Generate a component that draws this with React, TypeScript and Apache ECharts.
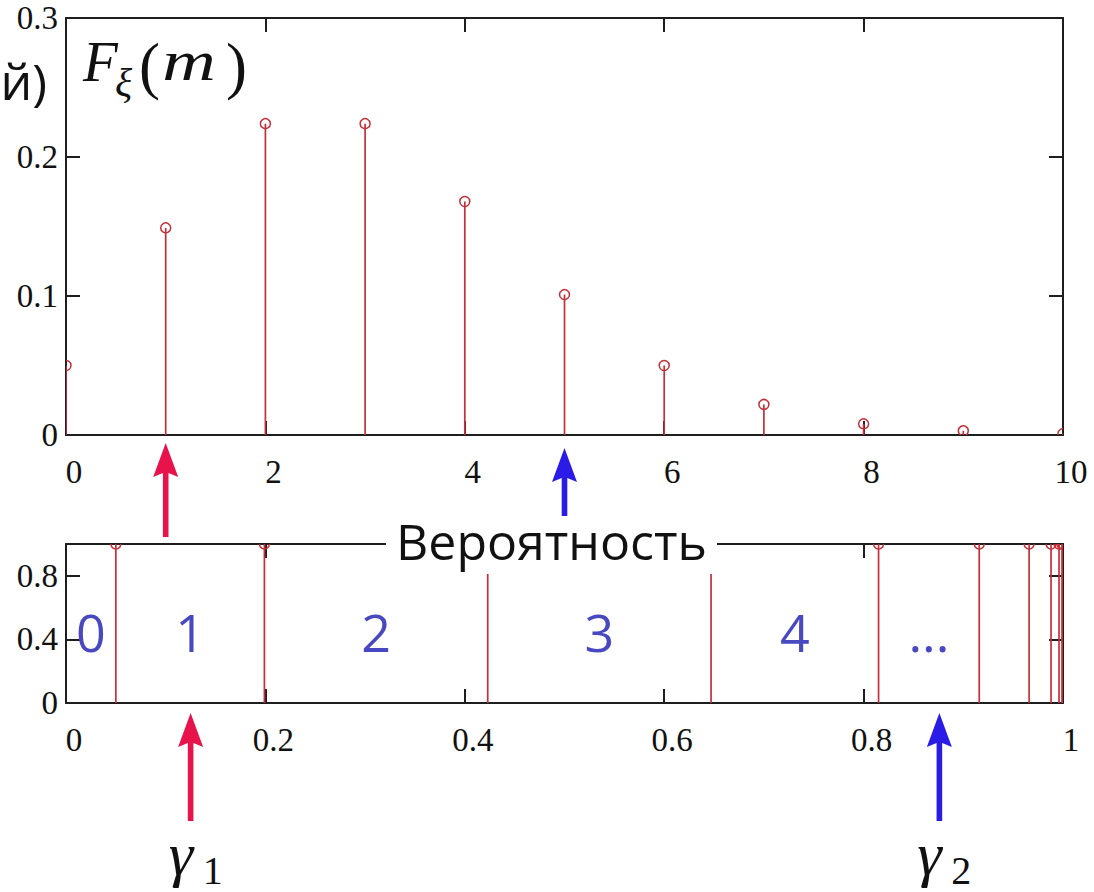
import React, { useEffect, useRef } from 'react';
import * as echarts from 'echarts';

// ---- data ----
const mValues = [0, 1, 2, 3, 4, 5, 6, 7, 8, 9, 10];
const pmfValues = [0.05, 0.149, 0.224, 0.224, 0.168, 0.101, 0.05, 0.022, 0.008, 0.003, 0.001];
const cdfValues = [0.05, 0.199, 0.423, 0.647, 0.815, 0.916, 0.966, 0.988, 0.996, 0.999, 1.0];
const intervalLabels = ['0', '1', '2', '3', '4', '...'];
const intervalLabelLevel = 0.45;
const topX = { min: 0, max: 10, interval: 2 };
const topY = { min: 0, max: 0.3, interval: 0.1 };
const botX = { min: 0, max: 1, interval: 0.2 };
const botY = { min: 0, max: 1, interval: 0.4 };
const topArrowTargets = [1, 5]; // m values pointed at
const gammaValues = [0.125, 0.876]; // random numbers γ1, γ2
const gammaNames = ['1', '2'];
const axisTitle = 'Вероятность';

const RED = '#c4303a';
const AXIS = '#1e1e1e';
const BLUE_TXT = '#4848c0';
const ARROW_RED = '#e8134b';
const ARROW_BLUE = '#2a1be6';
const SERIF = '"Liberation Serif", "Times New Roman", serif';
const SANS = '"Open Sans", "Noto Sans", sans-serif';

function axisCommon(extra: any) {
  return {
    type: 'value',
    axisLine: { show: true, onZero: false, lineStyle: { color: AXIS, width: 2 } },
    axisTick: { show: true, inside: true, length: 14, lineStyle: { color: AXIS, width: 2 } },
    splitLine: { show: false },
    ...extra,
  };
}

const xLabel = { fontFamily: SERIF, fontSize: 33, color: '#111', margin: 20, padding: [0, 0, 0, 16] };
const yLabel = { fontFamily: SERIF, fontSize: 33, color: '#111', margin: 8, padding: [6, 0, 0, 0] };

function stemRenderer(withCircle: boolean) {
  return (params: any, api: any) => {
    const x = api.value(0);
    const y = api.value(1);
    const p0 = api.coord([x, 0]);
    const p1 = api.coord([x, y]);
    const children: any[] = [
      { type: 'line', shape: { x1: p0[0], y1: p0[1], x2: p1[0], y2: p1[1] }, style: { stroke: RED, lineWidth: 1.7 } },
    ];
    if (withCircle) {
      children.push({ type: 'circle', shape: { cx: p1[0], cy: p1[1], r: 5 }, style: { stroke: RED, fill: 'none', lineWidth: 1.5 } });
    }
    return { type: 'group', children };
  };
}

function arrow(x: number, tip: number, bottom: number, color: string) {
  const hw = 12.5;
  const hl = 34;
  const sw = 2.8;
  return {
    type: 'polygon',
    z: 60,
    shape: {
      points: [
        [x, tip],
        [x + hw, tip + hl],
        [x + sw, tip + hl - 4],
        [x + sw, bottom],
        [x - sw, bottom],
        [x - sw, tip + hl - 4],
        [x - hw, tip + hl],
      ],
    },
    style: { fill: color },
  };
}

export default function App() {
  const ref = useRef<HTMLDivElement>(null);
  useEffect(() => {
    const chart = echarts.init(ref.current!, null, { renderer: 'svg' });

    const labelData = intervalLabels.map((t, i) => {
      const lo = i === 0 ? 0 : cdfValues[i - 1];
      const hi = cdfValues[i];
      return [(lo + hi) / 2, intervalLabelLevel, t];
    });

    const option: any = {
      animation: false,
      backgroundColor: '#fff',
      textStyle: { fontFamily: SERIF },
      grid: [
        { left: 66, top: 18, width: 997, height: 417 },
        { left: 66, top: 544, width: 997, height: 159 },
      ],
      xAxis: [
        axisCommon({ gridIndex: 0, position: 'bottom', ...topX, axisLabel: xLabel }),
        axisCommon({ gridIndex: 0, position: 'top', ...topX, axisLabel: { show: false } }),
        axisCommon({ gridIndex: 1, position: 'bottom', ...botX, axisLabel: xLabel }),
        axisCommon({ gridIndex: 1, position: 'top', ...botX, axisLabel: { show: false } }),
      ],
      yAxis: [
        axisCommon({ gridIndex: 0, position: 'left', ...topY, axisLabel: yLabel }),
        axisCommon({ gridIndex: 0, position: 'right', ...topY, axisLabel: { show: false } }),
        axisCommon({
          gridIndex: 1,
          position: 'left',
          ...botY,
          axisLabel: { ...yLabel, formatter: (v: number) => (v > 0.9 ? '' : String(Math.round(v * 10) / 10)) },
        }),
        axisCommon({ gridIndex: 1, position: 'right', ...botY, axisLabel: { show: false } }),
      ],
      series: [
        {
          type: 'custom',
          xAxisIndex: 0,
          yAxisIndex: 0,
          clip: true,
          z: 3,
          renderItem: stemRenderer(true),
          encode: { x: 0, y: 1 },
          data: mValues.map((m, i) => [m, pmfValues[i]]),
        },
        {
          type: 'custom',
          xAxisIndex: 2,
          yAxisIndex: 2,
          clip: true,
          z: 3,
          renderItem: stemRenderer(true),
          encode: { x: 0, y: 1 },
          data: cdfValues.map((c) => [c, 1]),
        },
        {
          type: 'custom',
          xAxisIndex: 2,
          yAxisIndex: 2,
          z: 4,
          renderItem: (params: any, api: any) => {
            const p = api.coord([api.value(0), api.value(1)]);
            return {
              type: 'text',
              x: p[0],
              y: p[1],
              style: {
                text: labelData[params.dataIndex][2],
                fill: BLUE_TXT,
                fontFamily: SANS,
                fontSize: 52,
                align: 'center',
                verticalAlign: 'middle',
              },
            };
          },
          encode: { x: 0, y: 1 },
          data: labelData,
        },
      ],
    };
    chart.setOption(option);

    const pxTop = (v: number) => chart.convertToPixel({ xAxisIndex: 0 }, v) as number;
    const pxBot = (v: number) => chart.convertToPixel({ xAxisIndex: 2 }, v) as number;

    const graphics: any[] = [
      // cut-off left caption
      { type: 'text', z: 60, x: 47, y: 81, style: { text: 'й)', fill: '#111', fontFamily: SANS, fontSize: 50, align: 'right', verticalAlign: 'middle' } },
      // F_ξ(m)
      { type: 'text', z: 60, x: 83, y: 61, style: { text: 'F', fill: '#111', fontFamily: SERIF, fontStyle: 'italic', fontSize: 57, align: 'left', verticalAlign: 'middle' } },
      { type: 'text', z: 60, x: 115, y: 82, style: { text: 'ξ', fill: '#111', fontFamily: SERIF, fontStyle: 'italic', fontSize: 40, align: 'left', verticalAlign: 'middle' } },
      { type: 'text', z: 60, x: 139, y: 66, style: { text: '(', fill: '#111', fontFamily: SERIF, fontSize: 63, align: 'left', verticalAlign: 'middle' } },
      { type: 'text', z: 60, x: 189, y: 61, scaleX: 1.3, style: { text: 'm', fill: '#111', fontFamily: SERIF, fontStyle: 'italic', fontSize: 57, align: 'center', verticalAlign: 'middle' } },
      { type: 'text', z: 60, x: 226, y: 66, style: { text: ')', fill: '#111', fontFamily: SERIF, fontSize: 63, align: 'left', verticalAlign: 'middle' } },
      // axis title with white box
      { type: 'rect', z: 55, shape: { x: 386, y: 514, width: 331, height: 60 }, style: { fill: '#fff' } },
      { type: 'text', z: 60, x: 396, y: 541, style: { text: axisTitle, fill: '#111', fontFamily: SANS, fontSize: 50, align: 'left', verticalAlign: 'middle' } },
      // arrows
      arrow(pxTop(topArrowTargets[0]), 443, 537, ARROW_RED),
      arrow(pxTop(topArrowTargets[1]), 448, 516, ARROW_BLUE),
      arrow(pxBot(gammaValues[0]), 713, 821, ARROW_RED),
      arrow(pxBot(gammaValues[1]), 713, 821, ARROW_BLUE),
    ];
    gammaValues.forEach((g, i) => {
      const x = pxBot(g);
      graphics.push(
        { type: 'text', z: 60, x: x - 22, y: 854, style: { text: 'γ', fill: '#111', fontFamily: SERIF, fontStyle: 'italic', fontSize: 62, align: 'left', verticalAlign: 'middle' } },
        { type: 'text', z: 60, x: x + 12, y: 870, style: { text: gammaNames[i], fill: '#111', fontFamily: SERIF, fontSize: 40, align: 'left', verticalAlign: 'middle' } },
      );
    });
    chart.setOption({ graphic: graphics });

    return () => chart.dispose();
  }, []);
  return <div ref={ref} style={{ position: 'absolute', left: 0, top: 0, width: 1094, height: 892, background: '#fff' }} />;
}
